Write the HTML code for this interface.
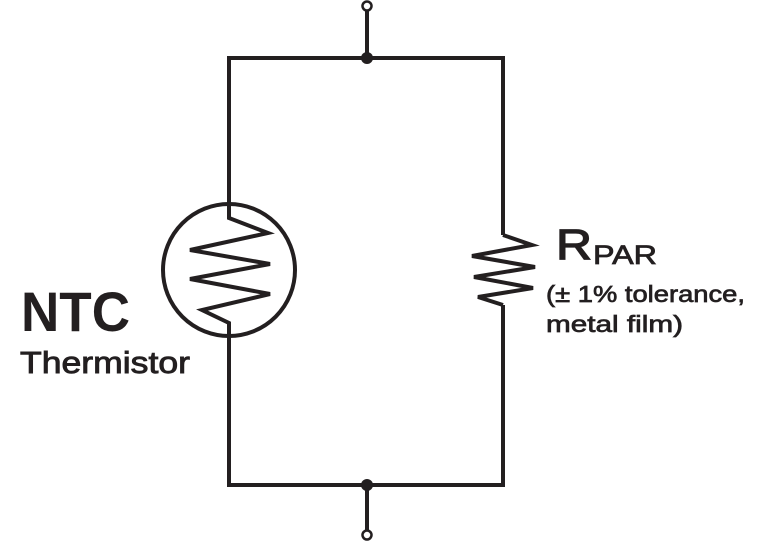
<!DOCTYPE html>
<html><head><meta charset="utf-8"><style>html,body{margin:0;padding:0;background:#fff}svg{display:block}</style></head>
<body>
<svg width="768" height="543" viewBox="0 0 768 543" xmlns="http://www.w3.org/2000/svg">
<g fill="none" stroke="#231f20" stroke-width="4" stroke-linejoin="miter">
<path d="M229 204 V58 H503 V235"/>
<path d="M229 337 V485 H503 V305"/>
<line x1="367" y1="10" x2="367" y2="58"/>
<line x1="367" y1="485" x2="367" y2="531"/>
<circle cx="229" cy="270" r="66"/>
<path d="M229 204 V218 L268 233 L190 250 L270 264 L190 279 L270 294 L202 310 L229 323 V337"/>
<path d="M503 235 L532 245 L472 256 L535 267 L474 277 L533 288 L478 297 L503 305"/>
</g>
<circle cx="367" cy="58" r="6" fill="#231f20"/>
<circle cx="367" cy="485" r="6" fill="#231f20"/>
<circle cx="367" cy="6" r="4.5" fill="#fff" stroke="#231f20" stroke-width="2.5"/>
<circle cx="367" cy="535" r="4.5" fill="#fff" stroke="#231f20" stroke-width="2.5"/>
<g fill="#231f20" stroke="#231f20" font-family="Liberation Sans, sans-serif">
<text x="21" y="331" font-size="56" font-weight="bold" stroke-width="0" textLength="109" lengthAdjust="spacingAndGlyphs">NTC</text>
<text x="20" y="373" font-size="31" stroke-width="0.9" textLength="170" lengthAdjust="spacingAndGlyphs">Thermistor</text>
<text x="556" y="259" font-size="43" stroke-width="1.3" textLength="36" lengthAdjust="spacingAndGlyphs">R</text>
<text x="593" y="264" font-size="27" stroke-width="0.8" textLength="64" lengthAdjust="spacingAndGlyphs">PAR</text>
<text x="546" y="302" font-size="23" stroke-width="0.7" textLength="199" lengthAdjust="spacingAndGlyphs">(± 1% tolerance,</text>
<text x="546" y="332" font-size="23" stroke-width="0.7" textLength="137" lengthAdjust="spacingAndGlyphs">metal film)</text>
</g>
</svg>
</body></html>
